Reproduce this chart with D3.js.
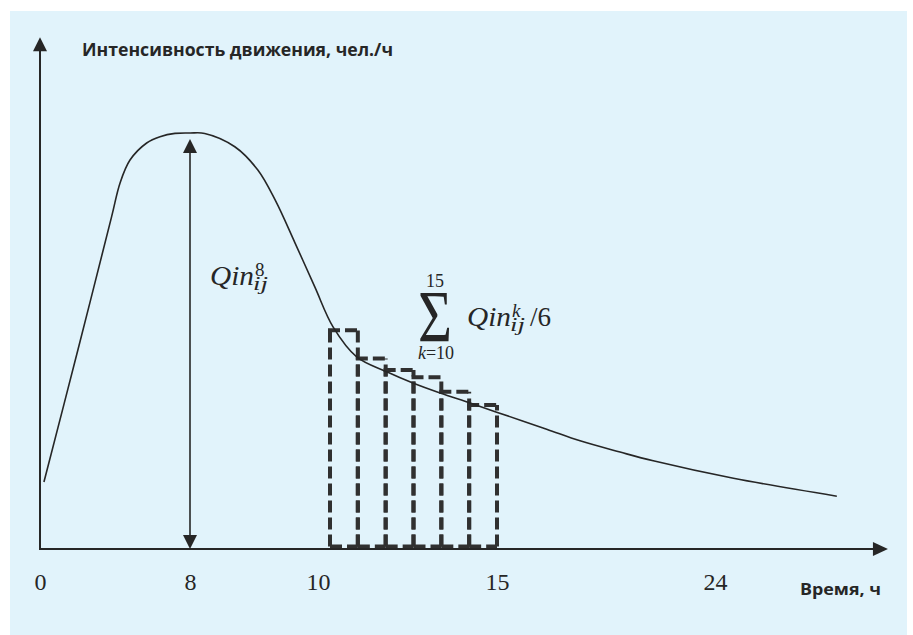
<!DOCTYPE html>
<html>
<head>
<meta charset="utf-8">
<script src="https://cdn.jsdelivr.net/npm/d3@7"></script>
<style>
  html, body { margin: 0; padding: 0; background: #ffffff; }
  svg { display: block; }
</style>
</head>
<body>
<svg id="chart" width="913" height="635"></svg>
<script>
// ---------------- data ----------------
// time-axis tick labels (hours)
const tickHours = [0, 8, 10, 15, 24];
// traffic intensity curve: hours
const curveHours = [0.21, 2.03, 3.82, 4.27, 4.8, 5.69, 6.4, 7.2, 8.0, 8.23, 8.70, 9.06, 9.33, 9.64, 9.95,
  10.42, 11.08, 11.92, 12.65, 13.41, 14.25, 14.99, 17.05, 18.43, 20.08, 21.45, 24.76, 29.03];
// traffic intensity curve: values (relative, peak = 100)
const curveValues = [16.1, 48.0, 79.9, 88.0, 93.5, 97.6, 99.1, 99.9, 100, 99.9, 96.7, 91.1, 83.9, 73.6, 63.0,
  53.4, 46.2, 42.6, 39.9, 37.5, 35.1, 32.9, 28.8, 26.0, 23.3, 21.2, 17.0, 12.7];
// hourly bars k = 10..15
const barHours = [10, 11, 12, 13, 14, 15];
const barValues = [52.6, 45.8, 43.0, 41.3, 37.8, 34.6];
const peakHour = 8;
const peakValue = 100;
const yAxisTitle = "Интенсивность движения, чел./ч";
const xAxisTitle = "Время, ч";

// ---------------- scales ----------------
const svg = d3.select("#chart");
const x = d3.scaleLinear().domain([0, 8, 10, 15, 24]).range([40, 190, 318, 497, 715]);
const y = d3.scaleLinear().domain([0, 100]).range([549, 133]);
const xEnd = 31.14;   // axis arrow end (hours)
const yEnd = 123;     // axis arrow end (value)
const ink = "#262626";

// background panel
svg.append("rect").attr("x", 10).attr("y", 11).attr("width", 897).attr("height", 624)
  .attr("fill", "#e1f3fb");

// ---------------- bars (dashed) ----------------
const band = d3.scaleBand().domain(barHours).range([x(10) + 12, x(15)]).paddingInner(0);
const barBottom = y(0) - 2.5;
const dash = { stroke: "#303030", width: 4, array: "12,5" };
const gb = svg.append("g").attr("fill", "none").attr("stroke", dash.stroke)
  .attr("stroke-width", dash.width).attr("stroke-dasharray", dash.array);
barHours.forEach((k, i) => {
  const x0 = band(k), x1 = band(k) + band.bandwidth(), yt = y(barValues[i]);
  // vertical edges, both drawn bottom → top so shared edges keep the same dash phase
  gb.append("line").attr("x1", x0).attr("x2", x0).attr("y1", barBottom).attr("y2", yt);
  gb.append("line").attr("x1", x1).attr("x2", x1).attr("y1", barBottom).attr("y2", yt);
  // top and bottom edges
  gb.append("line").attr("x1", x0 - 2).attr("x2", x1).attr("y1", yt).attr("y2", yt);
  gb.append("line").attr("x1", x0).attr("x2", x1).attr("y1", barBottom).attr("y2", barBottom);
});

// ---------------- curve ----------------
const line = d3.line()
  .x((d, i) => x(curveHours[i]))
  .y((d, i) => y(curveValues[i]))
  .curve(d3.curveCatmullRom.alpha(0.5));
svg.append("path").datum(curveHours).attr("d", line)
  .attr("fill", "none").attr("stroke", ink).attr("stroke-width", 1.6);

// ---------------- axes ----------------
function tri(tipX, tipY, dir, len, half) {
  const p = d3.path();
  if (dir === "up") { p.moveTo(tipX, tipY); p.lineTo(tipX - half, tipY + len); p.lineTo(tipX + half, tipY + len); }
  if (dir === "down") { p.moveTo(tipX, tipY); p.lineTo(tipX - half, tipY - len); p.lineTo(tipX + half, tipY - len); }
  if (dir === "right") { p.moveTo(tipX, tipY); p.lineTo(tipX - len, tipY - half); p.lineTo(tipX - len, tipY + half); }
  p.closePath();
  return p.toString();
}
const axes = svg.append("g");
axes.append("line").attr("x1", x(0)).attr("x2", x(0)).attr("y1", y(0) + 1).attr("y2", y(yEnd) + 8)
  .attr("stroke", ink).attr("stroke-width", 2);
axes.append("path").attr("d", tri(x(0), y(yEnd), "up", 14, 7)).attr("fill", ink);
axes.append("line").attr("x1", x(0) - 1).attr("x2", x(xEnd) - 8).attr("y1", y(0)).attr("y2", y(0))
  .attr("stroke", ink).attr("stroke-width", 2);
axes.append("path").attr("d", tri(x(xEnd), y(0), "right", 15, 7)).attr("fill", ink);

// tick labels via d3 axis
const xAxis = d3.axisBottom(x).tickValues(tickHours).tickSize(0).tickFormat(d3.format("d"));
const gx = svg.append("g").attr("transform", `translate(0,${y(0)})`).call(xAxis);
gx.select(".domain").remove();
gx.selectAll("text")
  .attr("y", 41).attr("dy", 0)
  .attr("font-family", "'Liberation Serif', 'Times New Roman', serif")
  .attr("font-size", 24).attr("fill", ink);

// axis titles
svg.append("text").attr("x", 82).attr("y", 56).text(yAxisTitle)
  .attr("font-family", "'Open Sans', sans-serif").attr("font-weight", 700)
  .attr("font-size", 17).attr("fill", ink)
  .attr("textLength", 311).attr("lengthAdjust", "spacingAndGlyphs");
svg.append("text").attr("x", 800).attr("y", 595).text(xAxisTitle)
  .attr("font-family", "'Open Sans', sans-serif").attr("font-weight", 700)
  .attr("font-size", 16).attr("fill", ink)
  .attr("textLength", 81).attr("lengthAdjust", "spacingAndGlyphs");

// ---------------- peak double arrow ----------------
const ax = x(peakHour);
const topTip = y(peakValue) + 6;
svg.append("line").attr("x1", ax).attr("x2", ax).attr("y1", topTip + 10).attr("y2", y(0) - 10)
  .attr("stroke", ink).attr("stroke-width", 1.6);
svg.append("path").attr("d", tri(ax, topTip, "up", 14, 7)).attr("fill", ink);
svg.append("path").attr("d", tri(ax, y(0), "down", 14, 7)).attr("fill", ink);

// ---------------- math annotations ----------------
const mathFont = "'Liberation Serif', 'Times New Roman', serif";
function qin(g, x0, base, sup) {
  g.append("text").attr("x", x0).attr("y", base).text("Qin")
    .attr("font-family", mathFont).attr("font-style", "italic").attr("font-size", 27).attr("fill", ink)
    .attr("textLength", 44).attr("lengthAdjust", "spacingAndGlyphs");
  g.append("text").attr("x", x0 + 45).attr("y", base - 9).text(sup)
    .attr("font-family", mathFont).attr("font-style", sup === "8" ? "normal" : "italic")
    .attr("font-size", 19).attr("fill", ink);
  g.append("text").attr("x", x0 + 43).attr("y", base + 5).text("ij")
    .attr("font-family", mathFont).attr("font-style", "italic").attr("font-size", 19).attr("fill", ink)
    .attr("textLength", 15).attr("lengthAdjust", "spacingAndGlyphs");
}
const m = svg.append("g");
qin(m, 210, 285, "8");

// sum
m.append("text").attr("x", 435).attr("y", 287).attr("text-anchor", "middle").text("15")
  .attr("font-family", mathFont).attr("font-size", 18).attr("fill", ink);
m.append("text").attr("x", 418).attr("y", 342).text("Σ")
  .attr("font-family", mathFont).attr("font-size", 74).attr("fill", ink)
  .attr("textLength", 34).attr("lengthAdjust", "spacingAndGlyphs");
const kt = m.append("text").attr("x", 436).attr("y", 359).attr("text-anchor", "middle")
  .attr("font-family", mathFont).attr("font-size", 18).attr("fill", ink);
kt.append("tspan").attr("font-style", "italic").text("k");
kt.append("tspan").text("=10");
qin(m, 467, 326, "k");
m.append("text").attr("x", 530).attr("y", 326).text("/6")
  .attr("font-family", mathFont).attr("font-size", 27).attr("fill", ink);
</script>
</body>
</html>
